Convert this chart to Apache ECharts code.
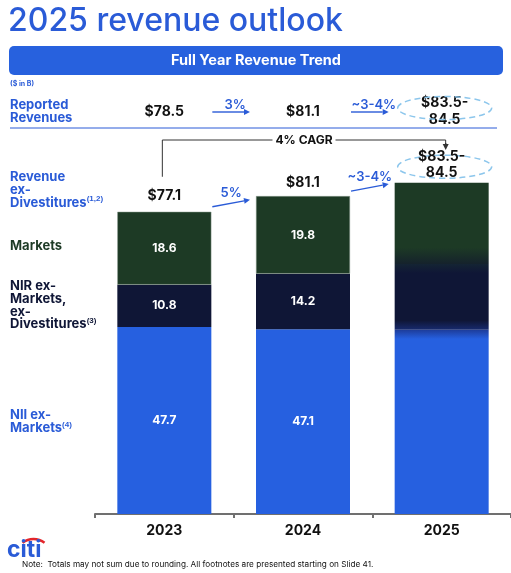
<!DOCTYPE html>
<html>
<head>
<meta charset="utf-8">
<title>2025 revenue outlook</title>
<script src="https://cdn.jsdelivr.net/npm/echarts@6/dist/echarts.min.js"></script>
<style>
  html, body { margin: 0; padding: 0; background: #fff; }
  #chart { width: 511px; height: 573px; }
</style>
</head>
<body>
<div id="chart"></div>
<script>
// data ($ in B)
var years = ['2023', '2024', '2025'];
var niiExMarkets = [47.7, 47.1, 47.0];
var nirExMarkets = [10.8, 14.2, 16.8];
var markets = [18.6, 19.8, 20.7];
var exDivTotals = [77.1, 81.1, 84.5];
var exDivLabels = ['$77.1', '$81.1', '$83.5-\n84.5'];
var reportedLabels = ['$78.5', '$81.1', '$83.5-\n84.5'];
var reportedGrowth = ['3%', '~3-4%'];
var exDivGrowth = ['5%', '~3-4%'];
var cagrLabel = '4% CAGR';
var showSegLabel = [true, true, false];   // 2025 segments are not labelled

var BLUE = '#2660e0', NAVY = '#0f1636', GREEN = '#1d3a25';
var TXT_BLUE = '#2a5bd7', DASH_BLUE = '#8cc6ec';
var FONT = 'Inter, "Noto Sans", sans-serif';

var chart = echarts.init(document.getElementById('chart'));

// 2025 is a forecast: the segment edges are blurred in the source
function fade(top, mid, bottom, a, b) {
  return new echarts.graphic.LinearGradient(0, 0, 0, 1, [
    {offset: 0, color: top}, {offset: a, color: mid},
    {offset: b, color: mid}, {offset: 1, color: bottom}
  ]);
}

function segData(values, style2025) {
  return values.map(function (v, i) {
    return i === 2 ? {value: v, itemStyle: {color: style2025, borderWidth: 0}} : v;
  });
}

var segLabel = {
  show: true,
  color: '#fff',
  fontFamily: FONT,
  fontWeight: 'bold',
  fontSize: 12,
  formatter: function (p) { return showSegLabel[p.dataIndex] ? p.value.toFixed(1) : ''; }
};

var option = {
  animation: false,
  backgroundColor: '#fff',
  grid: {left: 95, top: 122, width: 420, bottom: 59, containLabel: false},
  xAxis: {
    type: 'category',
    data: years,
    axisLine: {lineStyle: {color: '#707070', width: 2}},
    axisTick: {show: true, length: 4, lineStyle: {color: '#707070', width: 2}},
    axisLabel: {color: '#111', fontFamily: FONT, fontWeight: 'bold', fontSize: 14, margin: 10}
  },
  yAxis: {type: 'value', min: 0, max: 100, show: false, splitLine: {show: false}},
  series: [
    {
      name: 'NII ex-Markets', type: 'bar', stack: 'rev', barWidth: 94,
      itemStyle: {color: BLUE},
      label: segLabel,
      data: segData(niiExMarkets, fade('#1d3c9a', BLUE, BLUE, 0.05, 1))
    },
    {
      name: 'NIR ex-Markets, ex-Divestitures', type: 'bar', stack: 'rev',
      itemStyle: {color: NAVY},
      label: segLabel,
      data: segData(nirExMarkets, fade('#142433', NAVY, '#172a6e', 0.14, 0.86))
    },
    {
      name: 'Markets', type: 'bar', stack: 'rev',
      itemStyle: {color: GREEN, borderColor: '#8a9a8f', borderWidth: 0.5},
      label: segLabel,
      data: segData(markets, fade(GREEN, GREEN, '#15222c', 0.8, 0.8))
    },
    {
      name: 'Revenue ex-Divestitures', type: 'scatter',
      symbolSize: 1, itemStyle: {color: 'transparent', opacity: 1},
      silent: true,
      label: {
        show: true, position: 'top', color: '#111', opacity: 1, fontFamily: FONT,
        fontWeight: 'bold', fontSize: 14, lineHeight: 16,
        formatter: function (p) { return exDivLabels[p.dataIndex]; }
      },
      data: exDivTotals.map(function (v, i) {
        return {value: v, label: {distance: [7, 5, 1][i]}};
      })
    }
  ]
};
chart.setOption(option);

// ---- annotations placed from the chart's own scales ----
function px(i, v) { return chart.convertToPixel({gridIndex: 0}, [years[i], v]); }

var g = [];
function text(x, y, str, o) {
  g.push({type: 'text', x: x, y: y, silent: true, style: Object.assign({
    text: str, fontFamily: FONT, fontSize: 13, fontWeight: 'bold', fill: '#111',
    textAlign: 'left', textVerticalAlign: 'middle'
  }, o || {})});
}
function arrow(x1, y1, x2, y2, color) {
  var a = Math.atan2(y2 - y1, x2 - x1), L = 6, W = 3;
  var bx = x2 - L * Math.cos(a), by = y2 - L * Math.sin(a);
  g.push({type: 'line', silent: true, shape: {x1: x1, y1: y1, x2: bx, y2: by},
    style: {stroke: color, lineWidth: 1.4}});
  g.push({type: 'polygon', silent: true, shape: {points: [
    [x2, y2],
    [bx + W * Math.sin(a), by - W * Math.cos(a)],
    [bx - W * Math.sin(a), by + W * Math.cos(a)]
  ]}, style: {fill: color}});
}
function ellipse(cx, cy) {
  g.push({type: 'ellipse', silent: true, shape: {cx: cx, cy: cy, rx: 47, ry: 11.5},
    style: {fill: 'none', stroke: DASH_BLUE, lineWidth: 1.5, lineDash: [6, 4]}});
}

// title + banner
text(8, 21, '2025 revenue outlook', {fontSize: 32, fontWeight: 500, fill: TXT_BLUE});
g.push({type: 'rect', silent: true, shape: {x: 9, y: 46, width: 494, height: 29, r: 5},
  style: {fill: '#2761de'}});
text(256, 61, 'Full Year Revenue Trend', {fill: '#fff', fontSize: 14.5, textAlign: 'center'});
text(10, 84, '($ in B)', {fontSize: 7, fill: TXT_BLUE});

// reported revenues row
text(10, 105, 'Reported', {fill: TXT_BLUE});
text(10, 118, 'Revenues', {fill: TXT_BLUE});
var rowY = 111;
years.forEach(function (y, i) {
  var x = px(i, 0)[0];
  text(x + (i === 2 ? 3 : 0), rowY + (i === 2 ? 0 : 1), reportedLabels[i],
    {fontSize: 14, textAlign: 'center', lineHeight: 17});
});
ellipse(px(2, 0)[0] + 3, 108);
reportedGrowth.forEach(function (s, i) {
  var x1 = px(i, 0)[0] + 48, x2 = px(i + 1, 0)[0] - 53;
  arrow(x1, rowY + 1, x2, rowY + 1, TXT_BLUE);
  text((x1 + x2) / 2 + 4, rowY - 6, s, {fill: TXT_BLUE, fontSize: 13, fontWeight: 600, textAlign: 'center'});
});
g.push({type: 'line', silent: true, shape: {x1: 10, y1: 128, x2: 497, y2: 128},
  style: {stroke: TXT_BLUE, lineWidth: 1}});

// ex-divestitures growth arrows
exDivGrowth.forEach(function (s, i) {
  var x1 = px(i, 0)[0] + 48, x2 = px(i + 1, 0)[0] - 53;
  var y1 = px(i, exDivTotals[i])[1] - 5, y2 = y1 - 7;
  arrow(x1, y1, x2, y2, TXT_BLUE);
  text((x1 + x2) / 2, (y1 + y2) / 2 - 10, s, {fill: TXT_BLUE, fontSize: 13, fontWeight: 600, textAlign: 'center'});
});
var top25 = px(2, exDivTotals[2]);
ellipse(top25[0] + 3, top25[1] - 16);

// CAGR bracket
var p0 = px(0, exDivTotals[0]);
var cx0 = p0[0] - 2, cx2 = top25[0] + 4, yB = 140;
g.push({type: 'polyline', silent: true,
  shape: {points: [[cx0, p0[1] - 35], [cx0, yB], [cx2, yB], [cx2, yB + 4]]},
  style: {stroke: '#333', lineWidth: 1, fill: 'none'}});
arrow(cx2, yB + 3, cx2, yB + 10, '#333');
text((cx0 + cx2) / 2, yB, cagrLabel, {fontSize: 12, textAlign: 'center',
  backgroundColor: '#fff', padding: [1, 3]});

// row labels on the left
var supStyle = {fontSize: 8, fontWeight: 'bold', verticalAlign: 'top', padding: [0, 0, 7, 0]};
function sideLabel(y, lines, color) {
  lines.forEach(function (l, k) {
    text(10, y + k * 12.8, l, {fill: color, rich: {sup: Object.assign({fill: color}, supStyle)}});
  });
}
sideLabel(177, ['Revenue', 'ex-', 'Divestitures{sup|(1,2)}'], TXT_BLUE);
sideLabel(246, ['Markets'], GREEN);
sideLabel(286, ['NIR ex-', 'Markets,', 'ex-', 'Divestitures{sup|(3)}'], NAVY);
sideLabel(415, ['NII ex-', 'Markets{sup|(4)}'], TXT_BLUE);

// logo + note
g.push({type: 'arc', silent: true,
  shape: {cx: 33.5, cy: 557, r: 18, startAngle: -Math.PI * 0.71, endAngle: -Math.PI * 0.29},
  style: {stroke: '#e3262b', lineWidth: 2.5, fill: 'none'}});
text(7, 550, 'citi', {fontSize: 23, fill: '#2a5bd7', lineHeight: 23});
text(22, 565, 'Note:  Totals may not sum due to rounding. All footnotes are presented starting on Slide 41.',
  {fontSize: 8.2, fontWeight: 'normal', fill: '#111'});

chart.setOption({graphic: {elements: g}});
</script>
</body>
</html>
